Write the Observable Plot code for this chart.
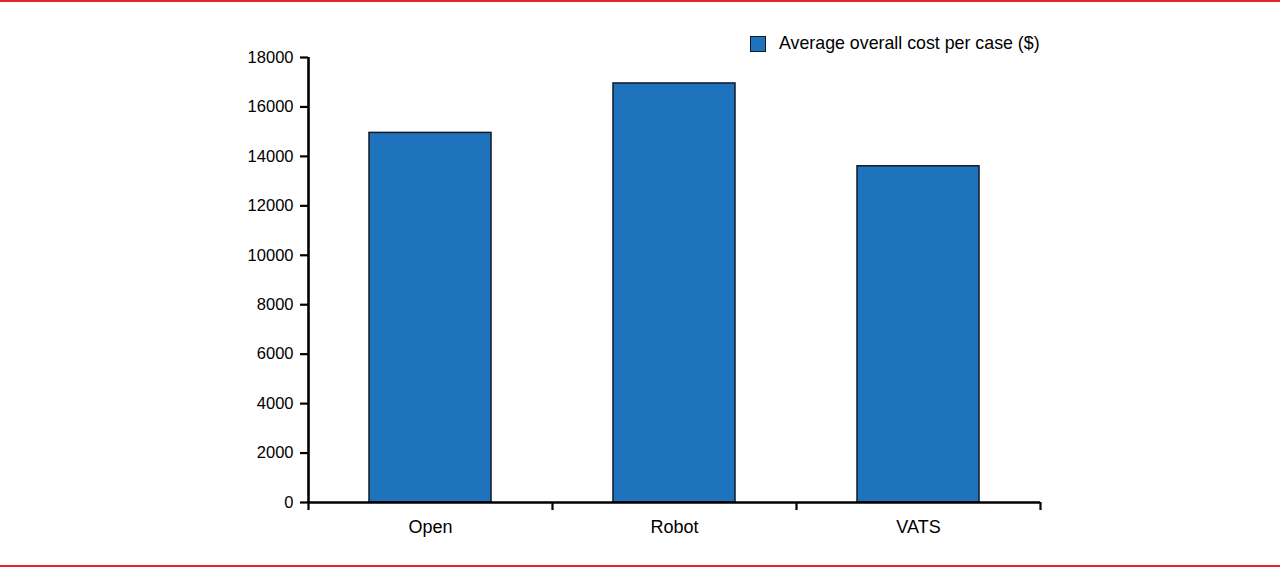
<!DOCTYPE html>
<html>
<head>
<meta charset="utf-8">
<script src="https://cdn.jsdelivr.net/npm/d3@7"></script>
<script src="https://cdn.jsdelivr.net/npm/@observablehq/plot@0.6"></script>
<style>
  html, body { margin: 0; padding: 0; background: #fff; }
  #wrap { position: relative; width: 1280px; height: 567px; overflow: hidden; font-family: "Liberation Sans", Arial, Helvetica, sans-serif; }
  .redline { position: absolute; left: 0; width: 1280px; height: 2px; background: #e2232b; }
  #legend { position: absolute; left: 750px; top: 33px; display: flex; align-items: center; font-size: 17.8px; color: #000; }
  #legend .sw { width: 14px; height: 14px; background: #1f73bc; border: 1.5px solid #111a2a; margin-right: 13px; }
  #chart { position: absolute; left: 0; top: 0; }
</style>
</head>
<body>
<div id="wrap">
  <div class="redline" style="top:0px"></div>
  <div id="chart"></div>
  <div id="legend"><div class="sw"></div><span id="legendText"></span></div>
  <div class="redline" style="top:565px"></div>
</div>
<script>
const categories = ["Open", "Robot", "VATS"];
const costs = [14950, 16950, 13600];
const yTicks = [0, 2000, 4000, 6000, 8000, 10000, 12000, 14000, 16000, 18000];
const seriesName = "Average overall cost per case ($)";

const data = categories.map((c, i) => ({category: c, cost: costs[i]}));
document.getElementById("legendText").textContent = seriesName;

const width = 1280, marginLeft = 308, marginRight = 240;
const step = (width - marginLeft - marginRight) / 3;
const half = step / 2;

const chart = Plot.plot({
  width: 1280,
  height: 567,
  marginLeft,
  marginRight,
  marginTop: 57,
  marginBottom: 65,
  style: {fontFamily: "'Liberation Sans', Arial, Helvetica, sans-serif", fontSize: "16.5px", color: "#000", background: "transparent"},
  x: {domain: categories, paddingInner: 0.5, paddingOuter: 0.25, label: null, axis: null},
  y: {domain: [0, 18000], label: null, axis: null},
  marks: [
    Plot.barY(data, {x: "category", y: "cost", fill: "#1f73bc", stroke: "#111a2a", strokeWidth: 1.5}),
    Plot.axisY({ticks: yTicks, tickSize: 8, tickPadding: 7, tickFormat: d => String(d), strokeWidth: 2.2, label: null}),
    Plot.ruleX(["Open"], {x: d => d, dx: -half, y1: 0, y2: 18000, stroke: "#000", strokeWidth: 2.6}),
    Plot.ruleY([0], {stroke: "#000", strokeWidth: 2.6}),
    Plot.ruleX(categories, {x: d => d, dx: -half, y1: 0, y2: 0, insetBottom: -8, stroke: "#000", strokeWidth: 2.2}),
    Plot.ruleX(["VATS"], {x: d => d, dx: half, y1: 0, y2: 0, insetBottom: -8, stroke: "#000", strokeWidth: 2.2}),
    Plot.axisX({tickSize: 0, tickPadding: 18, fontSize: 18, label: null})
  ]
});
document.getElementById("chart").appendChild(chart);
</script>
</body>
</html>
